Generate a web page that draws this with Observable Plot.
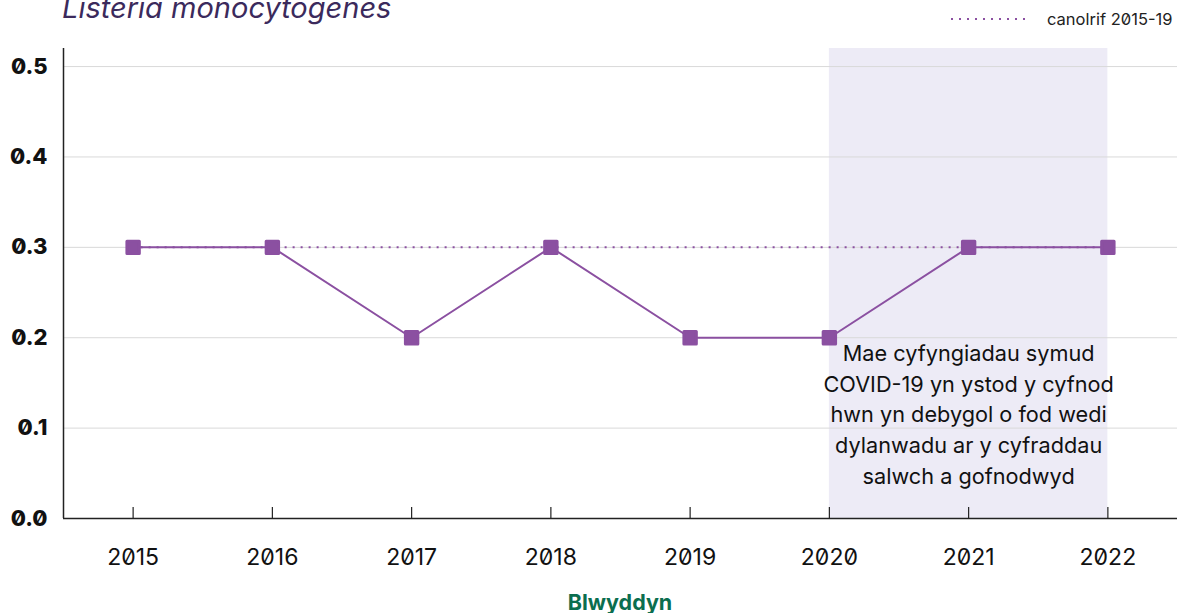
<!DOCTYPE html>
<html>
<head>
<meta charset="utf-8">
<script src="https://cdn.jsdelivr.net/npm/d3@7"></script>
<script src="https://cdn.jsdelivr.net/npm/@observablehq/plot@0.6"></script>
<style>
  html, body { margin: 0; padding: 0; background: #fff; overflow: hidden; }
  body { font-family: Inter, "Noto Sans", sans-serif; font-feature-settings: "zero" 1; }
  #wrap { position: relative; width: 1182px; height: 613px; }
  #title { position: absolute; left: 62px; top: -10px; font-size: 29px; font-style: italic; color: #3b2a5c; white-space: nowrap; }
  #legend { position: absolute; left: 949px; top: 9px; font-size: 16.5px; color: #222; display: flex; align-items: center; white-space: nowrap; }
  #legend svg { margin-right: 20px; }
  #xlabel { position: absolute; left: 0; width: 1240px; top: 589px; text-align: center; font-weight: 700; font-size: 21.5px; color: #0b6e4f; }
  svg text { font-feature-settings: "zero" 1; }
  svg g[aria-label="x-axis tick label"], svg g[aria-label="y-axis tick label"] { font-variant-numeric: normal; font-variant: normal; }
</style>
</head>
<body>
<div id="wrap">
  <div id="chart"></div>
  <div id="title">Listeria monocytogenes</div>
  <div id="legend"><svg width="78" height="6"><line x1="2" x2="78" y1="3" y2="3" stroke="#8b50a1" stroke-width="2" stroke-dasharray="2 6"/></svg><span>canolrif 2015-19</span></div>
  <div id="xlabel">Blwyddyn</div>
</div>
<script>
const years = [2015, 2016, 2017, 2018, 2019, 2020, 2021, 2022];
const rates = [0.3, 0.3, 0.2, 0.3, 0.2, 0.2, 0.3, 0.3];
const medianValue = 0.3;
const yTicks = [0, 0.1, 0.2, 0.3, 0.4, 0.5];
const covidStart = 2020;
const covidEnd = 2022;
const note = "Mae cyfyngiadau symud\nCOVID-19 yn ystod y cyfnod\nhwn yn debygol o fod wedi\ndylanwadu ar y cyfraddau\nsalwch a gofnodwyd";

const data = years.map((y, i) => ({year: y, rate: rates[i]}));
const purple = "#8b50a1";

const chart = Plot.plot({
  width: 1182,
  height: 613,
  marginTop: 48,
  marginBottom: 95,
  marginLeft: 63,
  marginRight: 5,
  style: {fontFamily: "Inter, sans-serif", background: "transparent"},
  x: {domain: [years[0] - 0.5, years[years.length - 1] + 0.5]},
  y: {domain: [0, 0.52]},
  marks: [
    Plot.rectX([{a: covidStart, b: covidEnd}], {x1: "a", x2: "b", y1: 0, y2: 0.52, fill: "#edebf6"}),
    Plot.gridY(yTicks, {stroke: "#d9d9d9", strokeOpacity: 1, strokeWidth: 1}),
    Plot.axisY(yTicks, {tickSize: 0, tickPadding: 16, tickFormat: d => d3.format(".1f")(d), fontSize: 22, fontWeight: 800, fill: "#111", label: null}),
    Plot.axisX(years, {tickSize: 0, tickPadding: 30, tickFormat: d => String(d), fontSize: 23, fill: "#111", label: null}),
    Plot.ruleX(years, {x: d => d, y1: 0, y2: 0, insetTop: -11, stroke: "#222", strokeWidth: 1.2}),
    Plot.ruleY([0], {stroke: "#222", strokeWidth: 1.5}),
    Plot.ruleX([years[0] - 0.5], {stroke: "#222", strokeWidth: 1.5}),
    Plot.ruleY([medianValue], {x1: years[0], x2: years[years.length - 1], stroke: purple, strokeWidth: 2, strokeDasharray: "2 6"}),
    Plot.line(data, {x: "year", y: "rate", stroke: purple, strokeWidth: 2}),
    Plot.dot(data, {x: "year", y: "rate", symbol: "square", r: 7, fill: purple, stroke: purple, strokeWidth: 3, strokeLinejoin: "round"}),
    Plot.text([note], {x: (covidStart + covidEnd) / 2, y: 0.198, text: d => d, lineAnchor: "top", lineHeight: 1.41, fontSize: 21.7, fill: "#111", textAnchor: "middle"})
  ]
});
document.getElementById("chart").appendChild(chart);
</script>
</body>
</html>
